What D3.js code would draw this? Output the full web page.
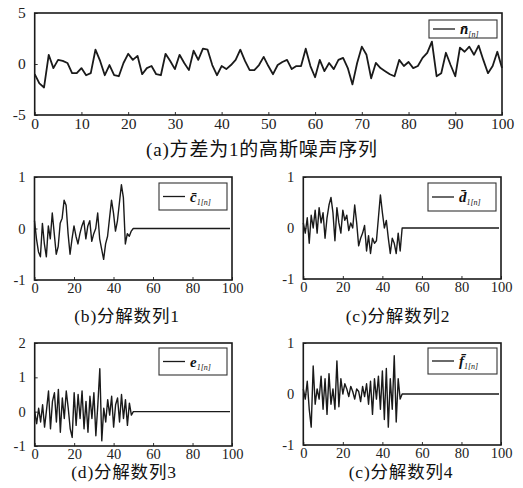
<!DOCTYPE html>
<html><head><meta charset="utf-8">
<script src="https://cdn.jsdelivr.net/npm/d3@7"></script>
<style>
html,body{margin:0;padding:0;background:#fff;}
svg{display:block;}
</style>
</head><body>
<svg id="chart" width="523" height="488"></svg>
<script>
// ---------- data ----------
const noiseN = [-1.0,-1.9,-2.3,0.9,-0.4,0.4,0.3,0.1,-0.9,-0.9,
 -0.4,-1.1,-0.9,1.4,0.3,-1.1,-0.1,-1.1,-1.2,0.1,
 1.0,0.4,0.8,-1.0,-0.4,-0.2,-1.0,-1.1,1.0,0.3,
 -0.5,0.9,0.1,-0.6,1.3,0.4,1.5,1.4,-0.1,-1.1,
 -0.2,-0.5,-0.1,0.4,1.4,0.3,-0.6,-0.6,-0.1,0.7,
 -0.2,-1.0,-0.1,0.2,0.4,-0.5,-0.2,-0.2,1.5,-0.2,
 -1.3,0.4,-0.7,0.1,-0.5,0.4,0.6,-0.4,-2.0,0.1,
 1.7,0.9,-1.4,0.1,-0.4,-0.7,-1.0,-1.2,0.4,-0.2,
 0.2,-0.4,-0.2,0.6,1.1,2.2,-1.2,-0.9,1.1,-0.1,
 -1.2,1.6,1.2,1.7,0.9,1.8,0.4,-0.9,-0.2,1.2,-0.4];
const seriesC = [0.15,-0.2,-0.45,-0.55,0.1,-0.3,-0.55,0.05,-0.2,0.3,
 -0.1,-0.5,-0.35,0.1,0.2,0.55,0.45,-0.1,-0.5,-0.2,
 0.05,-0.15,-0.3,-0.1,0.05,0.15,-0.2,0.05,0.15,-0.25,
 -0.1,0.0,0.3,-0.2,-0.4,-0.6,-0.3,-0.15,0.2,0.55,
 0.3,-0.05,0.15,0.5,0.85,0.6,-0.3,-0.1,-0.15,-0.05,
 0,0,0,0,0,0,0,0,0,0,0,0,0,0,0,0,0,0,0,0,0,0,0,0,0,
 0,0,0,0,0,0,0,0,0,0,0,0,0,0,0,0,0,0,0,0,0,0,0,0,0];
const seriesD = [0.1,-0.1,0.2,-0.3,0.25,0.0,0.35,-0.1,0.4,0.1,
 0.3,-0.2,0.2,0.45,0.6,0.3,-0.25,0.4,0.1,-0.1,
 0.35,0.15,0.25,-0.05,0.1,0.0,0.45,0.1,-0.35,-0.2,
 -0.1,0.05,-0.45,-0.15,-0.5,-0.2,-0.3,-0.25,0.2,0.65,
 0.3,0.0,0.15,-0.2,-0.5,-0.2,-0.3,-0.5,-0.1,-0.45,
 0,0,0,0,0,0,0,0,0,0,0,0,0,0,0,0,0,0,0,0,0,0,0,0,0,
 0,0,0,0,0,0,0,0,0,0,0,0,0,0,0,0,0,0,0,0,0,0,0,0,0];
const seriesE = [0.0,-0.35,0.1,-0.3,0.2,-0.45,0.05,0.6,-0.5,0.3,
 0.55,-0.3,0.65,-0.6,0.4,-0.2,0.6,0.1,-0.5,-0.75,
 0.55,-0.4,0.5,-0.2,0.6,-0.5,0.3,-0.6,0.45,-0.2,
 0.55,-0.7,0.2,1.25,-0.85,0.1,-0.3,0.35,-0.1,0.45,
 -0.45,0.2,0.4,-0.3,0.5,-0.2,0.35,-0.4,0.25,-0.1,
 0,0,0,0,0,0,0,0,0,0,0,0,0,0,0,0,0,0,0,0,0,0,0,0,0,
 0,0,0,0,0,0,0,0,0,0,0,0,0,0,0,0,0,0,0,0,0,0,0,0,0];
const seriesF = [0.1,-0.1,0.25,-0.3,-0.65,0.55,-0.2,0.1,-0.1,0.35,
 -0.3,0.3,-0.4,0.4,-0.2,0.1,-0.3,0.65,-0.25,0.3,
 0.0,0.2,0.1,-0.05,0.15,0.05,-0.1,0.1,0.05,-0.15,
 0.15,-0.05,0.2,-0.2,0.25,-0.4,0.3,-0.1,0.35,-0.3,
 0.45,-0.5,0.5,-0.65,0.3,-0.3,0.75,-0.55,0.3,-0.1,
 0,0,0,0,0,0,0,0,0,0,0,0,0,0,0,0,0,0,0,0,0,0,0,0,0,
 0,0,0,0,0,0,0,0,0,0,0,0,0,0,0,0,0,0,0,0,0,0,0,0,0];
const xTicksA = [0,10,20,30,40,50,60,70,80,90,100];
const xTicksSub = [0,20,40,60,80,100];
const yTicksA = [-5,0,5];
const yTicksUnit = [-1,0,1];
const yTicksE = [-1,0,1,2];
const captions = ["(a)方差为1的高斯噪声序列","(b)分解数列1","(c)分解数列2","(d)分解数列3","(c)分解数列4"];
const legendBases = ["n̄","c̄","d̄","e","f̄"];
const legendSubs = ["[n]","1[n]","1[n]","1[n]","1[n]"];

// ---------- layout ----------
const SERIF = "'Liberation Serif','Times New Roman',serif";
const panels = [
 {vals:noiseN, x0:34.7,x1:502,y0:13,y1:115, ydom:[-5,5], yt:yTicksA, xt:xTicksA, fs:15.5,
  leg:[429,20,68,18], cap:[262,156], capfs:19},
 {vals:seriesC, x0:34.5,x1:232,y0:177,y1:280, ydom:[-1,1], yt:yTicksUnit, xt:xTicksSub, fs:14.5,
  leg:[159,183,68,27], cap:[127,322], capfs:17.5},
 {vals:seriesD, x0:303.3,x1:501,y0:177,y1:279, ydom:[-1,1], yt:yTicksUnit, xt:xTicksSub, fs:14.5,
  leg:[428,183,68,28], cap:[398,322], capfs:17.5},
 {vals:seriesE, x0:34.7,x1:232,y0:343,y1:446, ydom:[-1,2], yt:yTicksE, xt:xTicksSub, fs:14.5,
  leg:[159,348,68,27], cap:[124,478], capfs:17.5},
 {vals:seriesF, x0:303.3,x1:501,y0:343,y1:445, ydom:[-1,1], yt:yTicksUnit, xt:xTicksSub, fs:14.5,
  leg:[428,348,69,26], cap:[401,478], capfs:17.5}
];

const svg = d3.select("#chart");
panels.forEach((p,k)=>{
  const x = d3.scaleLinear().domain([0,100]).range([p.x0,p.x1]);
  const y = d3.scaleLinear().domain(p.ydom).range([p.y1,p.y0]);
  const g = svg.append("g");
  const fmt = d => String(d);
  const ax = g.append("g").attr("transform",`translate(0,${p.y1})`)
    .call(d3.axisBottom(x).tickValues(p.xt).tickFormat(fmt).tickSizeInner(-3).tickSizeOuter(0).tickPadding(3));
  const ay = g.append("g").attr("transform",`translate(${p.x0},0)`)
    .call(d3.axisLeft(y).tickValues(p.yt).tickFormat(fmt).tickSizeInner(-3).tickSizeOuter(0).tickPadding(9));
  [ax,ay].forEach(a=>{
    a.attr("font-family",SERIF).attr("font-size",p.fs);
    a.select(".domain").remove();
    a.selectAll(".tick line").attr("stroke","#333").attr("stroke-width",1);
    a.selectAll(".tick text").attr("fill","#222").attr("font-family",SERIF).attr("font-size",p.fs);
  });
  const line = d3.line().x((d,i)=>x(i)).y(d=>y(d));
  g.append("path").datum(p.vals).attr("d",line)
    .attr("fill","none").attr("stroke","#1a1a1a").attr("stroke-width",k===0?1.8:1.4)
    .attr("stroke-linejoin","round");
  g.append("rect").attr("x",p.x0).attr("y",p.y0).attr("width",p.x1-p.x0).attr("height",p.y1-p.y0)
    .attr("fill","none").attr("stroke","#1a1a1a").attr("stroke-width",1.6);
  const [lx,ly,lw,lh] = p.leg;
  g.append("rect").attr("x",lx).attr("y",ly).attr("width",lw).attr("height",lh)
    .attr("fill","#fff").attr("stroke","#333").attr("stroke-width",1.1);
  const my = ly+lh/2;
  g.append("line").attr("x1",lx+4).attr("x2",lx+26).attr("y1",my).attr("y2",my)
    .attr("stroke","#1a1a1a").attr("stroke-width",1.3);
  const t = g.append("text").attr("x",lx+31).attr("y",my+5)
    .attr("font-family",SERIF).attr("font-style","italic").attr("font-weight","bold")
    .attr("font-size",15).attr("fill","#111");
  t.append("tspan").text(legendBases[k]);
  t.append("tspan").attr("font-size",8).attr("font-weight","normal").attr("dy",3).text(legendSubs[k]);
  g.append("text").attr("x",p.cap[0]).attr("y",p.cap[1]).attr("text-anchor","middle")
    .attr("font-family","'Liberation Serif','Noto Sans CJK SC',serif")
    .attr("letter-spacing",0.8)
    .attr("font-size",p.capfs).attr("fill","#111").text(captions[k]);
});
</script>
</body></html>
